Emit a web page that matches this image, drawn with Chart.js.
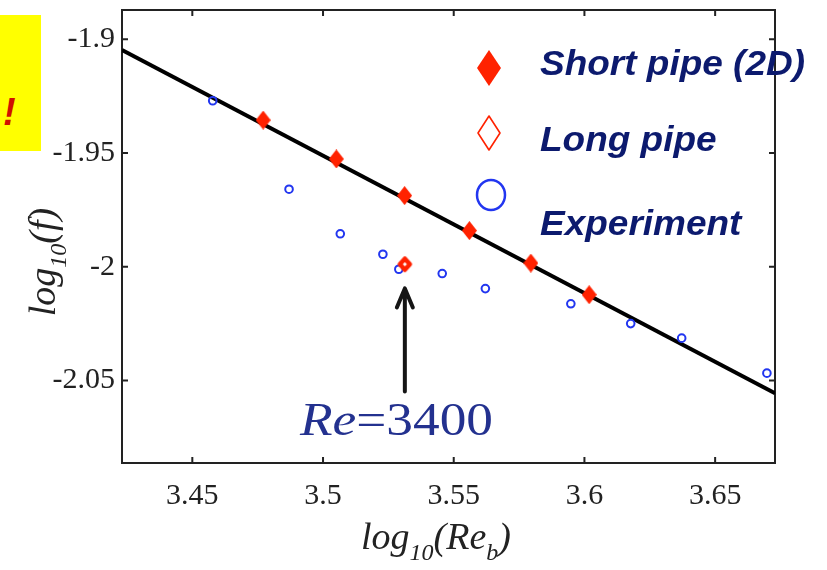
<!DOCTYPE html>
<html>
<head>
<meta charset="utf-8">
<script src="https://cdn.jsdelivr.net/npm/chart.js@4.4.0/dist/chart.umd.min.js"></script>
<style>
body { margin: 0; background: #fff; }
#wrap { position: relative; width: 827px; height: 570px; }
#note { position: absolute; left: 0; top: 15px; width: 41px; height: 136px; background: #ffff00; overflow: hidden; }
#note span { position: absolute; left: 3px; top: 76px; font: italic bold 38px "Liberation Sans", Arial, sans-serif; color: #d01000; }
</style>
</head>
<body>
<div id="wrap">
  <canvas id="chart" width="827" height="570"></canvas>
  <div id="note"><span>!</span></div>
</div>
<script>
// values (log10 Re_b, log10 f)
const shortX = [3.4771, 3.5051, 3.5312, 3.5560, 3.5795, 3.6018];
const shortY = [-1.9355, -1.9526, -1.9687, -1.9841, -1.9984, -2.0123];
const longX = [3.5313];
const longY = [-1.9989];
const expX = [3.4578, 3.4870, 3.5066, 3.5229, 3.5290, 3.5456, 3.5621, 3.5948, 3.6177, 3.6372, 3.6698];
const expY = [-1.9270, -1.9659, -1.9855, -1.9945, -2.0011, -2.0030, -2.0096, -2.0163, -2.0250, -2.0314, -2.0468];
const fitX = [3.4231, 3.6729];
const fitY = [-1.9047, -2.0556];

const xTicks = [3.45, 3.5, 3.55, 3.6, 3.65];
const xTickLabels = ['3.45', '3.5', '3.55', '3.6', '3.65'];
const yTicks = [-1.9, -1.95, -2, -2.05];
const yTickLabels = ['-1.9', '-1.95', '-2', '-2.05'];
const xRange = [3.4231, 3.6729];
const yRange = [-2.0863, -1.8871];

const legendLabels = ['Short pipe (2D)', 'Long pipe', 'Experiment'];
const arrowX = 3.5313;
const arrowY = [-2.0549, -2.0091];
const reLabel = ['Re', '=3400'];

const RED = '#ff2200';
const BLUE = '#2236f0';
const NAVY = '#0c1a6e';

function makeDiamond(w, h, fill, stroke, lw) {
    const c = document.createElement('canvas');
    c.width = w + lw * 2;
    c.height = h + lw * 2;
    const ctx = c.getContext('2d');
    ctx.beginPath();
    ctx.moveTo(c.width / 2, lw);
    ctx.lineTo(c.width - lw, c.height / 2);
    ctx.lineTo(c.width / 2, c.height - lw);
    ctx.lineTo(lw, c.height / 2);
    ctx.closePath();
    if (fill) { ctx.fillStyle = fill; ctx.fill(); }
    if (stroke) { ctx.strokeStyle = stroke; ctx.lineWidth = lw; ctx.lineJoin = 'round'; ctx.stroke(); }
    return c;
}

function drawSubText(ctx, parts, x, y, size, family) {
    const subSize = Math.round(size * 0.62);
    let total = 0;
    parts.forEach(p => {
        ctx.font = 'italic ' + (p.sub ? subSize : size) + 'px ' + family;
        total += ctx.measureText(p.t).width;
    });
    let cx = x - total / 2;
    ctx.textAlign = 'left';
    ctx.textBaseline = 'alphabetic';
    parts.forEach(p => {
        ctx.font = 'italic ' + (p.sub ? subSize : size) + 'px ' + family;
        ctx.fillText(p.t, cx, y + (p.sub ? size * 0.3 : 0));
        cx += ctx.measureText(p.t).width;
    });
}

const framePlugin = {
    id: 'frame',
    beforeDatasetsDraw(chart) {
        const { ctx, chartArea: a, scales } = chart;
        ctx.save();
        ctx.strokeStyle = '#222';
        ctx.lineWidth = 2;
        ctx.strokeRect(a.left, a.top, a.right - a.left, a.bottom - a.top);
        ctx.beginPath();
        xTicks.forEach(v => {
            const px = scales.x.getPixelForValue(v);
            ctx.moveTo(px, a.bottom); ctx.lineTo(px, a.bottom - 6);
            ctx.moveTo(px, a.top); ctx.lineTo(px, a.top + 6);
        });
        yTicks.forEach(v => {
            const py = scales.y.getPixelForValue(v);
            ctx.moveTo(a.left, py); ctx.lineTo(a.left + 6, py);
            ctx.moveTo(a.right, py); ctx.lineTo(a.right - 6, py);
        });
        ctx.stroke();
        ctx.restore();
    },
    afterDraw(chart) {
        const { ctx, scales } = chart;
        ctx.save();

        // arrow pointing at the long pipe point
        const ax = scales.x.getPixelForValue(arrowX);
        const ay0 = scales.y.getPixelForValue(arrowY[0]);
        const ay1 = scales.y.getPixelForValue(arrowY[1]);
        ctx.strokeStyle = '#151515';
        ctx.lineWidth = 4;
        ctx.lineCap = 'round';
        ctx.lineJoin = 'round';
        ctx.beginPath();
        ctx.moveTo(ax, ay0); ctx.lineTo(ax, ay1 + 2);
        ctx.moveTo(ax - 8, ay1 + 20); ctx.lineTo(ax, ay1 + 1); ctx.lineTo(ax + 8, ay1 + 20);
        ctx.stroke();

        // Re=3400
        ctx.fillStyle = '#23318f';
        ctx.textBaseline = 'alphabetic';
        ctx.textAlign = 'left';
        ctx.font = 'italic 47px "Liberation Serif", serif';
        const w1 = ctx.measureText(reLabel[0]).width;
        ctx.font = '47px "Liberation Serif", serif';
        const w2 = ctx.measureText(reLabel[1]).width;
        const sx = 193 / (w1 + w2);
        ctx.save();
        ctx.translate(300, 435);
        ctx.scale(sx, 1);
        ctx.font = 'italic 47px "Liberation Serif", serif';
        ctx.fillText(reLabel[0], 0, 0);
        ctx.font = '47px "Liberation Serif", serif';
        ctx.fillText(reLabel[1], w1, 0);
        ctx.restore();

        // legend
        const mx = 489;
        ctx.fillStyle = RED;
        ctx.beginPath();
        ctx.moveTo(mx, 50); ctx.lineTo(mx + 12, 68); ctx.lineTo(mx, 86); ctx.lineTo(mx - 12, 68);
        ctx.closePath(); ctx.fill();
        ctx.strokeStyle = RED;
        ctx.lineWidth = 1.6;
        ctx.beginPath();
        ctx.moveTo(mx, 116); ctx.lineTo(mx + 11, 133); ctx.lineTo(mx, 150); ctx.lineTo(mx - 11, 133);
        ctx.closePath(); ctx.stroke();
        ctx.strokeStyle = BLUE;
        ctx.lineWidth = 2.5;
        ctx.beginPath();
        ctx.ellipse(mx + 2, 195, 14, 15, 0, 0, Math.PI * 2);
        ctx.stroke();

        ctx.fillStyle = NAVY;
        ctx.font = 'italic bold 35px "Liberation Sans", Arial, sans-serif';
        const lsx = 265 / ctx.measureText(legendLabels[0]).width;
        [75, 151, 235].forEach((by, i) => {
            ctx.save();
            ctx.translate(540, by);
            ctx.scale(lsx, 1);
            ctx.fillText(legendLabels[i], 0, 0);
            ctx.restore();
        });

        // axis titles
        ctx.fillStyle = '#222';
        drawSubText(ctx, [{ t: 'log' }, { t: '10', sub: true }, { t: '(Re' }, { t: 'b', sub: true }, { t: ')' }],
            436, 549, 38, '"Liberation Serif", serif');
        ctx.translate(55, 262);
        ctx.rotate(-Math.PI / 2);
        drawSubText(ctx, [{ t: 'log' }, { t: '10', sub: true }, { t: '(f)' }], 0, 0, 38, '"Liberation Serif", serif');
        ctx.restore();
    }
};

const toPts = (xs, ys) => xs.map((x, i) => ({ x: x, y: ys[i] }));

new Chart(document.getElementById('chart').getContext('2d'), {
    type: 'scatter',
    data: {
        datasets: [
            {
                label: 'fit',
                type: 'line',
                data: toPts(fitX, fitY),
                borderColor: '#000',
                borderWidth: 4,
                pointRadius: 0,
                fill: false,
                order: 4
            },
            {
                label: legendLabels[2],
                data: toPts(expX, expY),
                pointStyle: 'circle',
                pointRadius: 3.8,
                borderWidth: 2,
                borderColor: BLUE,
                backgroundColor: 'rgba(0,0,0,0)',
                order: 3
            },
            {
                label: legendLabels[0],
                data: toPts(shortX, shortY),
                pointStyle: makeDiamond(15, 19, RED, null, 0),
                order: 2
            },
            {
                label: legendLabels[1],
                data: toPts(longX, longY),
                pointStyle: makeDiamond(10, 11, '#fff', RED, 4.5),
                order: 1
            }
        ]
    },
    options: {
        responsive: false,
        animation: false,
        layout: { padding: { left: 0, top: 10, right: 52, bottom: 0 } },
        plugins: {
            legend: { display: false },
            tooltip: { enabled: false }
        },
        scales: {
            x: {
                type: 'linear',
                min: xRange[0],
                max: xRange[1],
                grid: { display: false, drawTicks: false },
                border: { display: false },
                afterBuildTicks: s => { s.ticks = xTicks.map(v => ({ value: v })); },
                afterFit: s => { s.height = 107; s.paddingLeft = 0; s.paddingRight = 0; },
                ticks: {
                    padding: 15,
                    color: '#222',
                    font: { family: '"Liberation Serif", serif', size: 30 },
                    callback: (v, i) => xTickLabels[i]
                }
            },
            y: {
                type: 'linear',
                min: yRange[0],
                max: yRange[1],
                grid: { display: false, drawTicks: false },
                border: { display: false },
                afterBuildTicks: s => { s.ticks = yTicks.map(v => ({ value: v })); },
                afterFit: s => { s.width = 122; s.paddingTop = 0; s.paddingBottom = 0; },
                ticks: {
                    padding: 7,
                    color: '#222',
                    font: { family: '"Liberation Serif", serif', size: 30 },
                    callback: (v, i) => yTickLabels[i]
                }
            }
        }
    },
    plugins: [framePlugin]
});
</script>
</body>
</html>
